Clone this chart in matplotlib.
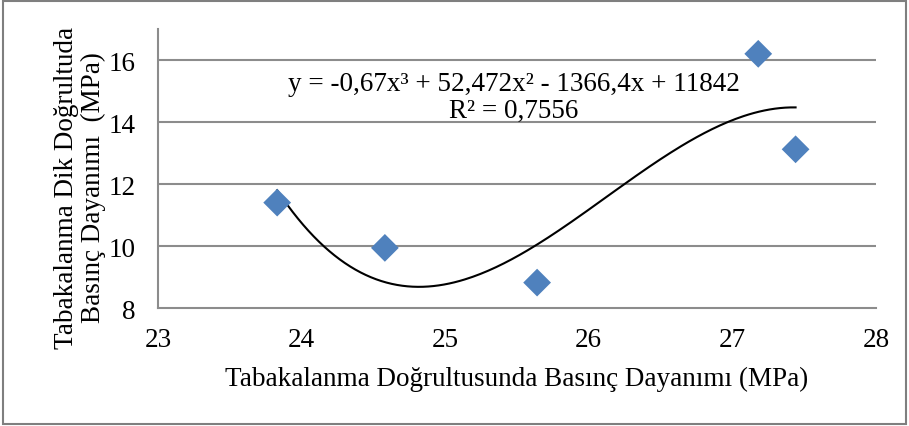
import matplotlib.pyplot as plt
import numpy as np
from matplotlib.patches import Rectangle

plt.rcParams['font.family'] = ['Liberation Serif', 'DejaVu Serif']

# strength along bedding vs perpendicular to bedding (MPa)
x_parallel = [23.83, 24.58, 25.64, 27.18, 27.44]
y_perpendicular = [11.40, 9.94, 8.82, 16.20, 13.12]
x_ticks = [23, 24, 25, 26, 27, 28]
y_ticks = [8, 10, 12, 14, 16]

equation = 'y = -0,67x³ + 52,472x² - 1366,4x + 11842'
r_squared = 'R² = 0,7556'

fs = 19.5
fig = plt.figure(figsize=(9.09, 4.27), dpi=100)
ax = fig.add_axes([0.1738, 0.2763, 0.7899, 0.6534])

grid_c = '#8c8c8c'
for v in y_ticks[1:]:
    ax.axhline(v, color=grid_c, lw=1.5, zorder=1)

ax.scatter(x_parallel, y_perpendicular, marker='D', s=200, color='#4f81bd',
           edgecolors='none', zorder=3)

# cubic trendline through the points
coef = np.polyfit(x_parallel, y_perpendicular, 3)
xs = np.linspace(min(x_parallel), max(x_parallel), 200)
ax.plot(xs, np.polyval(coef, xs), color='black', lw=1.5, zorder=2)

ax.set_xlim(23, 28)
ax.set_ylim(8, 17)
ax.set_xticks(x_ticks)
ax.set_yticks(y_ticks)
ax.tick_params(length=0, labelsize=fs)
ax.tick_params(axis='y', pad=16)
ax.tick_params(axis='x', pad=14)
for s in ['top', 'right']:
    ax.spines[s].set_visible(False)
for s in ['left', 'bottom']:
    ax.spines[s].set_color(grid_c)
    ax.spines[s].set_linewidth(1.5)

ax.set_xlabel('Tabakalanma Doğrultusunda Basınç Dayanımı (MPa)', fontsize=fs, labelpad=10)
fig.text(0.088, 0.56, 'Tabakalanma Dik Doğrultuda\nBasınç Dayanımı  (MPa)',
         rotation=90, ha='center', va='center', fontsize=fs, linespacing=1.1)

fig.text(0.565, 0.803, equation, ha='center', va='center', fontsize=fs)
fig.text(0.565, 0.738, r_squared, ha='center', va='center', fontsize=fs)

fig.add_artist(Rectangle((0.003, 0.005), 0.994, 0.99, transform=fig.transFigure,
                         fill=False, edgecolor='#7f7f7f', lw=1.5))

fig.savefig('out.png', dpi=100)
